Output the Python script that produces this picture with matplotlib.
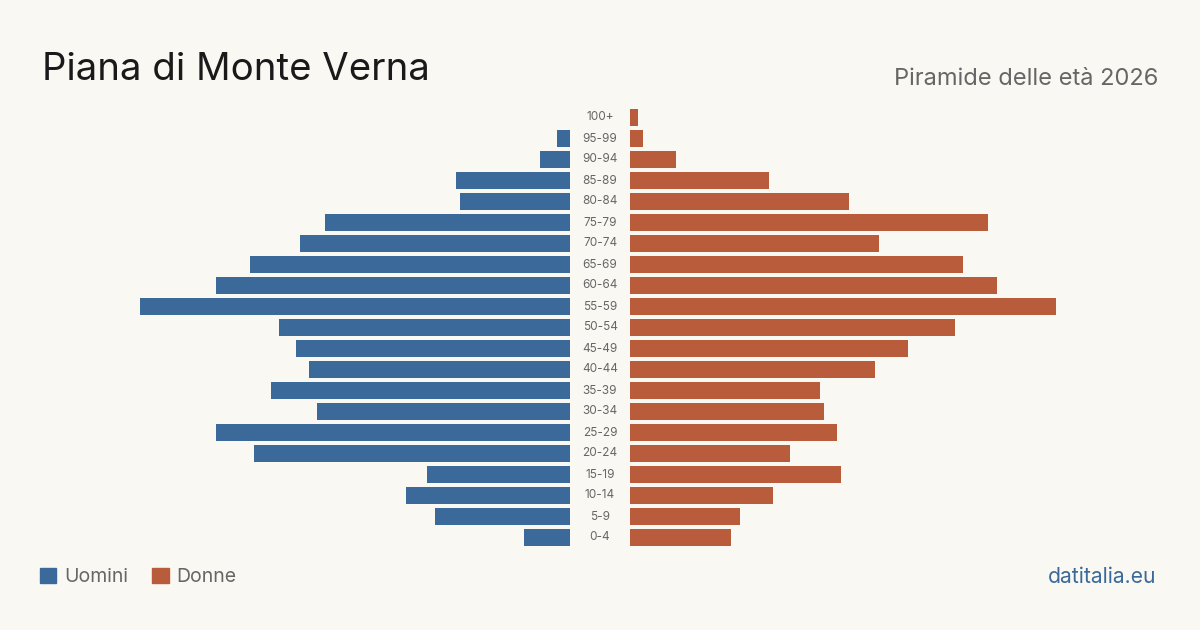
# Piramide delle età - Piana di Monte Verna
import matplotlib.pyplot as plt
from matplotlib.patches import Patch
from matplotlib.transforms import blended_transform_factory

plt.rcParams['font.family'] = ['Inter', 'DejaVu Sans']

age_groups = ['0-4', '5-9', '10-14', '15-19', '20-24', '25-29', '30-34', '35-39',
              '40-44', '45-49', '50-54', '55-59', '60-64', '65-69', '70-74', '75-79',
              '80-84', '85-89', '90-94', '95-99', '100+']
men = [46, 135, 164, 143, 316, 354, 253, 299, 261, 274, 291, 430, 354, 320, 270, 245,
       110, 114, 30, 13, 0]
women = [101, 110, 143, 211, 160, 207, 194, 190, 245, 278, 325, 426, 367, 333, 249, 358,
         219, 139, 46, 13, 8]

bg = '#f9f8f3'
blue = '#3b6a9a'
red = '#b85c3c'

W, H = 1200, 630
fig = plt.figure(figsize=(12, 6.3), dpi=100, facecolor=bg)

y0 = (H - 548) / H
yh = 441 / H
ax_l = fig.add_axes([40 / W, y0, 530 / W, yh])
ax_r = fig.add_axes([630 / W, y0, 530 / W, yh], sharey=ax_l)

pos = list(range(len(age_groups)))
ax_l.barh(pos, men, height=0.81, color=blue)
ax_r.barh(pos, women, height=0.81, color=red)

ax_l.set_xlim(530, 0)
ax_r.set_xlim(0, 530)
ax_l.set_ylim(-0.5, len(age_groups) - 0.5)
for ax in (ax_l, ax_r):
    ax.set_facecolor('none')
    ax.axis('off')

trans = blended_transform_factory(fig.transFigure, ax_l.transData)
for i, lab in enumerate(age_groups):
    fig.text(0.5, i, lab, transform=trans, ha='center', va='center',
             fontsize=8.5, color='#666666')

fig.text(42 / W, (H - 80) / H, 'Piana di Monte Verna', fontsize=27.6,
         color='#1a1a1a', va='baseline', ha='left')
fig.text(1158 / W, (H - 85) / H, 'Piramide delle età 2026', fontsize=17,
         color='#666666', va='baseline', ha='right')
fig.text(1156 / W, (H - 577) / H, 'datitalia.eu', fontsize=15.2,
         color=blue, va='center', ha='right')

handles = [Patch(color=blue, label='Uomini'), Patch(color=red, label='Donne')]
fig.legend(handles=handles, loc='center left', bbox_to_anchor=(22 / W, (H - 577) / H),
           ncol=2, frameon=False, fontsize=14, labelcolor='#666666',
           handlelength=0.85, handleheight=0.85, handletextpad=0.4, columnspacing=1.25)

fig.savefig('out.png', dpi=100, facecolor=bg)
